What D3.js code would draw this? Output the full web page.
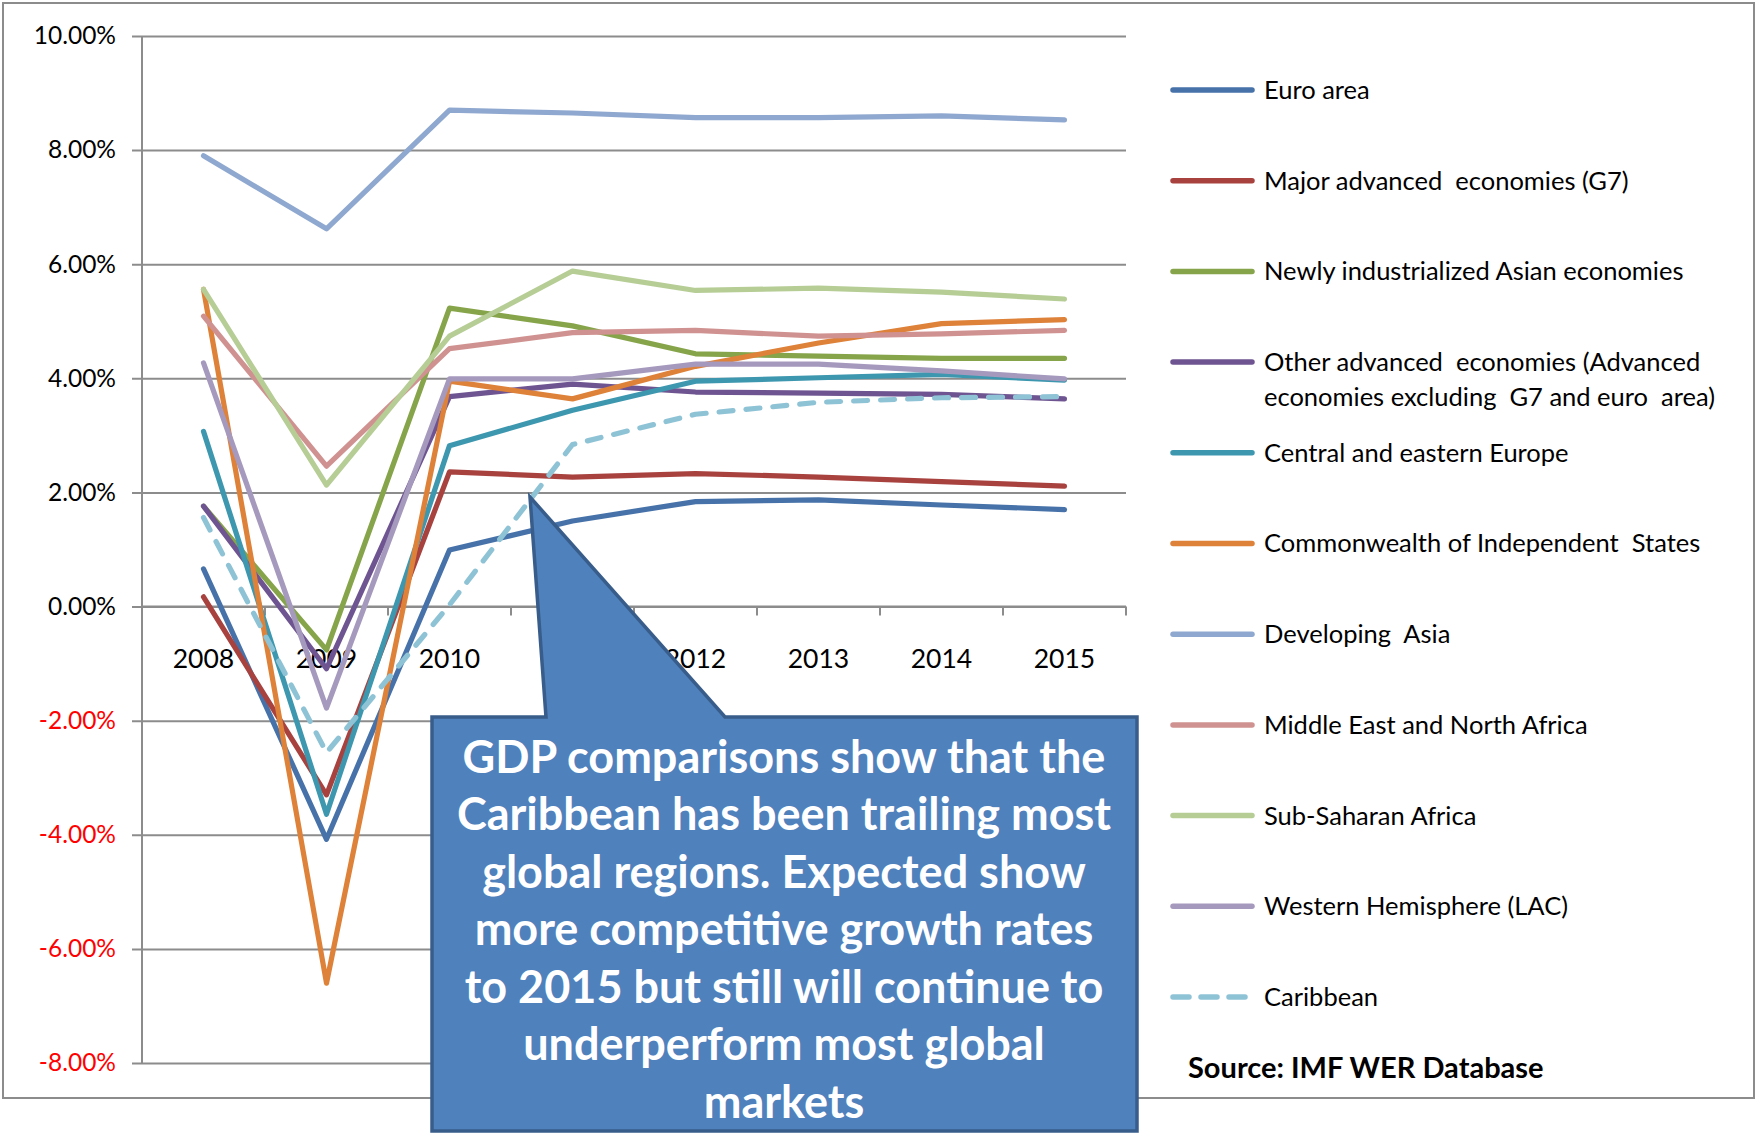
<!DOCTYPE html>
<html>
<head>
<meta charset="utf-8">
<script src="https://cdn.jsdelivr.net/npm/d3@7"></script>
<style>
  body { margin: 0; background: #fff; }
  svg { display: block; }
  text { font-family: Lato, "Open Sans", sans-serif; }
</style>
</head>
<body>
<div id="chart"></div>
<script>
// categories
const years = ['2008', '2009', '2010', '2011', '2012', '2013', '2014', '2015'];
const yTickValues = [-8, -6, -4, -2, 0, 2, 4, 6, 8, 10];

// series values, % growth
const euroArea      = [0.66, -4.08, 0.99, 1.50, 1.84, 1.87, 1.78, 1.70];
const majorG7       = [0.17, -3.30, 2.36, 2.27, 2.33, 2.27, 2.19, 2.11];
const newlyAsian    = [1.76, -0.76, 5.23, 4.92, 4.43, 4.39, 4.35, 4.35];
const otherAdvanced = [1.76, -1.09, 3.68, 3.90, 3.76, 3.74, 3.72, 3.64];
const centralEurope = [3.07, -3.64, 2.82, 3.44, 3.95, 4.01, 4.07, 3.97];
const cis           = [5.56, -6.60, 3.95, 3.64, 4.21, 4.62, 4.96, 5.03];
const devAsia       = [7.90, 6.62, 8.70, 8.65, 8.57, 8.57, 8.60, 8.53];
const mena          = [5.09, 2.46, 4.52, 4.80, 4.84, 4.74, 4.78, 4.84];
const subSaharan    = [5.56, 2.13, 4.74, 5.88, 5.54, 5.58, 5.51, 5.39];
const westernHemi   = [4.27, -1.78, 3.99, 3.99, 4.25, 4.25, 4.13, 3.99];
const caribbean     = [1.56, -2.56, 0.03, 2.84, 3.37, 3.58, 3.66, 3.68];

const seriesNames = [
  'Euro area',
  'Major advanced  economies (G7)',
  'Newly industrialized Asian economies',
  ['Other advanced  economies (Advanced', 'economies excluding  G7 and euro  area)'],
  'Central and eastern Europe',
  'Commonwealth of Independent  States',
  'Developing  Asia',
  'Middle East and North Africa',
  'Sub-Saharan Africa',
  'Western Hemisphere (LAC)',
  'Caribbean'
];
const seriesValues = [euroArea, majorG7, newlyAsian, otherAdvanced, centralEurope, cis,
  devAsia, mena, subSaharan, westernHemi, caribbean];
const seriesColors = ['#4672A9', '#A8423F', '#86A44A', '#6E5490', '#3D97AF', '#DE8139',
  '#8FA8CF', '#D09290', '#B6CD96', '#A699BE', '#8EC3D6'];

const calloutLines = [
  'GDP comparisons show that the',
  'Caribbean has been trailing most',
  'global regions. Expected show',
  'more competitive growth rates',
  'to 2015 but still will continue to',
  'underperform most global',
  'markets'
];
const sourceText = 'Source: IMF WER Database';

const W = 1757, H = 1134;
const plot = {left: 142, right: 1126, top: 36, bottom: 1063};

const svg = d3.select('#chart').append('svg')
  .attr('width', W)
  .attr('height', H);

// outer chart border
svg.append('rect')
  .attr('x', 3).attr('y', 3)
  .attr('width', 1751).attr('height', 1095)
  .attr('fill', '#fff')
  .attr('stroke', '#8c8c8c')
  .attr('stroke-width', 2);

const x = d3.scalePoint().domain(years).range([plot.left, plot.right]).padding(0.5);
const xBand = d3.scaleBand().domain(years).range([plot.left, plot.right]);
const y = d3.scaleLinear().domain([-8, 10]).range([plot.bottom, plot.top]);

// gridlines + y axis
const yAxis = d3.axisLeft(y)
  .tickValues(yTickValues)
  .tickSize(-(plot.right - plot.left + 10))
  .tickFormat(d => d3.format('.2f')(d).replace('\u2212', '-') + '%');

const gy = svg.append('g')
  .attr('transform', 'translate(' + (plot.left - 10) + ',0)')
  .call(yAxis);
gy.select('.domain').remove();
gy.selectAll('.tick line')
  .attr('stroke', '#8c8c8c')
  .attr('stroke-width', 2);
gy.selectAll('.tick text')
  .attr('x', -16)
  .attr('font-size', 24.5)
  .attr('fill', d => d < 0 ? '#ff0000' : '#000');

svg.append('line')
  .attr('x1', plot.left).attr('x2', plot.left)
  .attr('y1', plot.top).attr('y2', plot.bottom)
  .attr('stroke', '#8c8c8c')
  .attr('stroke-width', 2);

// x axis at zero, ticks on category boundaries
const gx = svg.append('g')
  .attr('transform', 'translate(0,' + y(0) + ')');
gx.append('line')
  .attr('x1', plot.left).attr('x2', plot.right)
  .attr('stroke', '#8c8c8c').attr('stroke-width', 2);
gx.selectAll('.bound')
  .data(years)
  .enter().append('line')
    .attr('class', 'bound')
    .attr('x1', d => xBand(d) + xBand.bandwidth())
    .attr('x2', d => xBand(d) + xBand.bandwidth())
    .attr('y1', 0).attr('y2', 9)
    .attr('stroke', '#8c8c8c').attr('stroke-width', 2);
gx.selectAll('.yr')
  .data(years)
  .enter().append('text')
    .attr('class', 'yr')
    .attr('x', d => x(d))
    .attr('y', 61)
    .attr('text-anchor', 'middle')
    .attr('font-size', 26.5)
    .text(d => d);

// lines
const line = d3.line()
  .x((d, i) => x(years[i]))
  .y(d => y(d));

svg.append('g')
  .selectAll('path')
  .data(seriesValues)
  .enter().append('path')
    .attr('d', d => line(d))
    .attr('fill', 'none')
    .attr('stroke', (d, i) => seriesColors[i])
    .attr('stroke-width', 5.2)
    .attr('stroke-linejoin', 'round')
    .attr('stroke-linecap', 'round')
    .attr('stroke-dasharray', (d, i) => i === 10 ? '14,13' : null);

// legend
const legendRowY = d3.scaleLinear().domain([0, 1]).range([90, 180.7]);
const legend = svg.append('g');
seriesNames.forEach((name, i) => {
  const ly = legendRowY(i);
  const g = legend.append('g').attr('transform', 'translate(0,' + ly + ')');
  g.append('line')
    .attr('x1', 1173).attr('x2', 1252)
    .attr('stroke', seriesColors[i])
    .attr('stroke-width', 5.5)
    .attr('stroke-linecap', 'round')
    .attr('stroke-dasharray', i === 10 ? '16,12' : null);
  const lines = Array.isArray(name) ? name : [name];
  lines.forEach((t, j) => {
    g.append('text')
      .attr('x', 1264)
      .attr('y', j * 35)
      .attr('dy', '0.35em')
      .attr('font-size', 25.5)
      .attr('fill', '#000')
      .style('white-space', 'pre')
      .text(t);
  });
});

svg.append('text')
  .attr('x', 1188)
  .attr('y', 1068)
  .attr('dy', '0.35em')
  .attr('font-size', 29)
  .attr('font-weight', 'bold')
  .text(sourceText);

// callout
const cl = {left: 432, right: 1137, top: 717, bottom: 1131, baseL: 546, baseR: 725, tipX: 530, tipY: 497};
const calloutPath = d3.path();
calloutPath.moveTo(cl.left, cl.top);
calloutPath.lineTo(cl.baseL, cl.top);
calloutPath.lineTo(cl.tipX, cl.tipY);
calloutPath.lineTo(cl.baseR, cl.top);
calloutPath.lineTo(cl.right, cl.top);
calloutPath.lineTo(cl.right, cl.bottom);
calloutPath.lineTo(cl.left, cl.bottom);
calloutPath.closePath();

svg.append('path')
  .attr('d', calloutPath.toString())
  .attr('fill', '#4F81BD')
  .attr('stroke', '#385D8A')
  .attr('stroke-width', 3.5)
  .attr('stroke-linejoin', 'miter');

svg.append('g')
  .selectAll('text')
  .data(calloutLines)
  .enter().append('text')
    .attr('x', 784)
    .attr('y', (d, i) => 757 + i * 57.5)
    .attr('dy', '0.35em')
    .attr('text-anchor', 'middle')
    .attr('font-size', 45)
    .attr('font-weight', 'bold')
    .attr('fill', '#fff')
    .text(d => d);
</script>
</body>
</html>
